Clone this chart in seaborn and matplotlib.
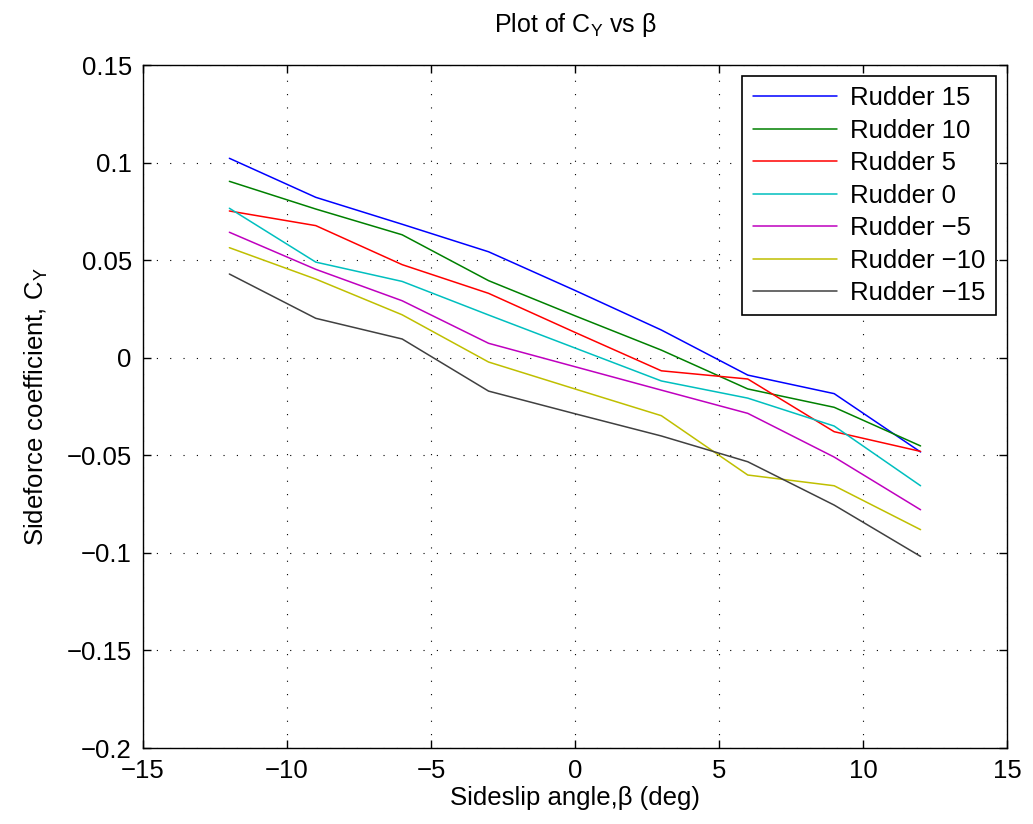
import numpy as np
import pandas as pd
import matplotlib
matplotlib.use("Agg")
import matplotlib.pyplot as plt
from matplotlib.ticker import FuncFormatter, MultipleLocator
import seaborn as sns

# sideslip angle (deg)
beta = [-12, -9, -6, -3, 0, 3, 6, 9, 12]

rudder_labels = ["Rudder 15", "Rudder 10", "Rudder 5", "Rudder 0",
                 "Rudder \u22125", "Rudder \u221210", "Rudder \u221215"]

cy_r15 = [0.1022, 0.0822, 0.0684, 0.0543, 0.0345, 0.0142, -0.0089, -0.0184, -0.0483]
cy_r10 = [0.0904, 0.0762, 0.0630, 0.0395, 0.0215, 0.0039, -0.0160, -0.0254, -0.0452]
cy_r5 = [0.0752, 0.0677, 0.0477, 0.0330, 0.0130, -0.0067, -0.0109, -0.0379, -0.0480]
cy_r0 = [0.0766, 0.0490, 0.0391, 0.0219, 0.0050, -0.0119, -0.0207, -0.0350, -0.0656]
cy_rm5 = [0.0643, 0.0453, 0.0292, 0.0074, -0.0046, -0.0166, -0.0285, -0.0509, -0.0779]
cy_rm10 = [0.0564, 0.0403, 0.0220, -0.0022, -0.0160, -0.0297, -0.0601, -0.0656, -0.0881]
cy_rm15 = [0.0429, 0.0202, 0.0096, -0.0171, -0.0287, -0.0401, -0.0533, -0.0755, -0.1018]

colors = ["#0000ff", "#008000", "#ff0000", "#00bfbf", "#bf00bf", "#bfbf00", "#404040"]

series = [cy_r15, cy_r10, cy_r5, cy_r0, cy_rm5, cy_rm10, cy_rm15]
df = pd.concat([pd.DataFrame({"beta": beta, "cy": s, "rudder": lab})
                for s, lab in zip(series, rudder_labels)], ignore_index=True)

sns.set_style("ticks")
plt.rcParams["font.family"] = ["Liberation Sans", "DejaVu Sans"]
plt.rcParams["mathtext.default"] = "regular"
plt.rcParams["xtick.direction"] = "in"
plt.rcParams["ytick.direction"] = "in"
for k in ["text.color", "axes.labelcolor", "xtick.color", "ytick.color",
          "xtick.labelcolor", "ytick.labelcolor"]:
    plt.rcParams[k] = "black"

fs = 18.5

fig = plt.figure(figsize=(10.33, 8.24), dpi=100)
ax = fig.add_axes([0.1384, 0.0922, 0.8364, 0.8289])

sns.lineplot(data=df, x="beta", y="cy", hue="rudder", hue_order=rudder_labels,
             palette=colors, linewidth=1.1, ax=ax)

ax.set_xlim(-15, 15)
ax.set_ylim(-0.2, 0.15)
ax.xaxis.set_major_locator(MultipleLocator(5))
ax.yaxis.set_major_locator(MultipleLocator(0.05))
fmt = FuncFormatter(lambda v, p: ("%g" % round(v, 4)).replace("-", "\u2212"))
ax.xaxis.set_major_formatter(fmt)
ax.yaxis.set_major_formatter(fmt)
ax.tick_params(axis="both", labelsize=fs, length=6, width=1, top=True, right=True,
               color="black", labelcolor="black", pad=8)
ax.grid(True, linestyle=(0, (1, 11)), color="black", linewidth=0.8)
for sp in ax.spines.values():
    sp.set_visible(True)
    sp.set_linewidth(1.0)
    sp.set_color("black")

ax.set_xlabel("Sideslip angle,\u03b2 (deg)", fontsize=fs, labelpad=2, color="black")
ax.set_ylabel("Sideforce coefficient, C$_Y$", fontsize=fs, labelpad=12, color="black")
ax.set_title("Plot of C$_Y$ vs \u03b2", fontsize=18, pad=24, color="black")

leg = ax.legend(loc="upper right", fontsize=fs, frameon=True, fancybox=False,
                edgecolor="black", framealpha=1, borderaxespad=0.43,
                handlelength=3.3, handletextpad=0.5, labelspacing=0.33, borderpad=0.4)
leg.get_frame().set_linewidth(1.2)
for t in leg.get_texts():
    t.set_color("black")

fig.savefig("out.png", dpi=100)
